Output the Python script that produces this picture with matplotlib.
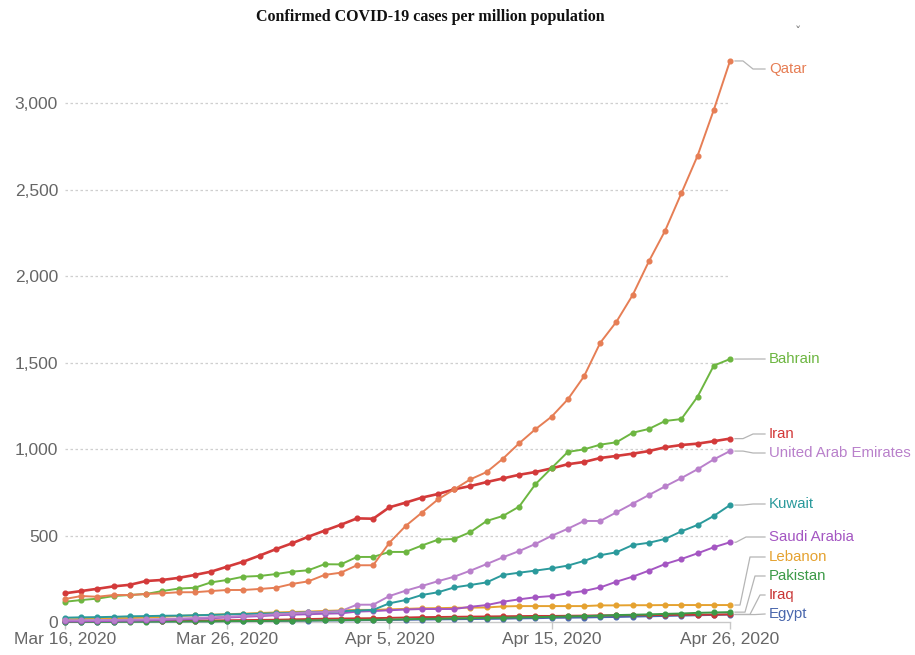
import matplotlib
matplotlib.use("Agg")
import matplotlib.pyplot as plt
import numpy as np

# ---------------- data ----------------
dates = ["Mar 16", "Mar 17", "Mar 18", "Mar 19", "Mar 20", "Mar 21", "Mar 22", "Mar 23",
         "Mar 24", "Mar 25", "Mar 26", "Mar 27", "Mar 28", "Mar 29", "Mar 30", "Mar 31",
         "Apr 1", "Apr 2", "Apr 3", "Apr 4", "Apr 5", "Apr 6", "Apr 7", "Apr 8", "Apr 9",
         "Apr 10", "Apr 11", "Apr 12", "Apr 13", "Apr 14", "Apr 15", "Apr 16", "Apr 17",
         "Apr 18", "Apr 19", "Apr 20", "Apr 21", "Apr 22", "Apr 23", "Apr 24", "Apr 25", "Apr 26"]

tick_dates = ["Mar 16", "Mar 26", "Apr 5", "Apr 15", "Apr 26"]
tick_labels = ["Mar 16, 2020", "Mar 26, 2020", "Apr 5, 2020", "Apr 15, 2020", "Apr 26, 2020"]
y_ticks = [0, 500, 1000, 1500, 2000, 2500, 3000]

qatar = [133, 150, 146, 156, 156, 162, 166, 172, 172, 179, 185, 185, 191, 198, 220, 235,
         272, 285, 328, 328, 458, 555, 632, 709, 767, 825, 867, 944, 1033, 1114, 1187,
         1287, 1420, 1614, 1736, 1890, 2085, 2262, 2478, 2695, 2960, 3243]
bahrain = [117, 127, 135, 150, 156, 162, 179, 193, 198, 229, 243, 262, 266, 277, 291, 299,
           334, 333, 376, 376, 405, 405, 442, 476, 480, 520, 584, 613, 667, 796, 890,
           983, 998, 1025, 1039, 1094, 1116, 1162, 1173, 1302, 1482, 1520]
iran = [166, 179, 192, 206, 215, 237, 243, 255, 272, 291, 320, 349, 384, 421, 455, 493,
        528, 562, 599, 597, 663, 690, 719, 740, 767, 786, 809, 830, 851, 867, 888,
        912, 925, 948, 960, 973, 988, 1010, 1023, 1031, 1045, 1060]
uae = [10, 10, 11, 12, 13, 15, 17, 20, 23, 27, 31, 35, 40, 45, 50, 55, 58, 63, 100, 100,
       150, 181, 208, 236, 262, 297, 335, 374, 410, 451, 498, 539, 584, 584, 634, 684,
       734, 784, 832, 883, 940, 988]
kuwait = [25, 27, 28, 30, 33, 34, 36, 37, 39, 41, 44, 46, 48, 50, 53, 56, 58, 62, 66, 70,
          108, 127, 156, 172, 200, 214, 229, 272, 285, 297, 310, 326, 353, 386, 403, 445,
          458, 480, 524, 561, 613, 676]
saudi = [3, 4, 5, 6, 8, 9, 11, 15, 18, 22, 26, 30, 34, 39, 42, 45, 48, 50, 60, 63, 68,
         72, 75, 75, 75, 88, 98, 117, 131, 143, 150, 166, 179, 200, 233, 262, 297, 335,
         364, 397, 432, 461]
lebanon = [15, 17, 20, 22, 23, 25, 30, 35, 38, 42, 45, 48, 52, 55, 58, 60, 64, 67, 70, 70,
           73, 76, 79, 80, 82, 83, 84, 90, 92, 92, 92, 92, 92, 96, 96, 97, 97, 98, 98, 98,
           98, 98]
pakistan = [1, 1, 1, 2, 2, 2, 3, 3, 4, 4, 5, 6, 6, 7, 8, 9, 10, 11, 12, 13, 14, 16, 18, 19,
            21, 22, 24, 25, 27, 28, 30, 32, 34, 37, 40, 42, 44, 47, 49, 53, 55, 57]
iraq = [3, 4, 5, 5, 5, 6, 6, 7, 8, 9, 10, 11, 12, 13, 15, 17, 19, 20, 21, 22, 24, 26, 28,
        29, 30, 31, 32, 33, 34, 35, 35, 36, 37, 38, 39, 40, 40, 41, 42, 42, 43, 44]
egypt = [1, 2, 2, 2, 3, 3, 3, 4, 4, 4, 5, 5, 6, 6, 7, 8, 9, 9, 10, 11, 12, 13, 14, 15, 16,
         17, 18, 19, 21, 22, 24, 25, 26, 28, 29, 31, 33, 35, 37, 39, 41, 43]

# -------------- styles ----------------
series = [
    ("Egypt", egypt, "#4a67ad"),
    ("Iraq", iraq, "#c93535"),
    ("Pakistan", pakistan, "#3c9a48"),
    ("Lebanon", lebanon, "#e5a230"),
    ("Saudi Arabia", saudi, "#a456c2"),
    ("Kuwait", kuwait, "#2b9a9c"),
    ("United Arab Emirates", uae, "#b980cb"),
    ("Iran", iran, "#d33a3a"),
    ("Bahrain", bahrain, "#6db641"),
    ("Qatar", qatar, "#e67e55"),
]
# label vertical positions (pixel y in figure, from top), elbow x (pixels)
label_py = {"Qatar": 69, "Bahrain": 359, "Iran": 434, "United Arab Emirates": 453,
            "Kuwait": 504, "Saudi Arabia": 537, "Lebanon": 557, "Pakistan": 576,
            "Iraq": 595, "Egypt": 614}
elbow_px = {"Qatar": 748, "Bahrain": 748, "Iran": 748, "United Arab Emirates": 748,
            "Kuwait": 748, "Saudi Arabia": 741, "Lebanon": 745, "Pakistan": 750,
            "Iraq": 755, "Egypt": 760}

plt.rcParams['font.family'] = ['Liberation Sans', 'DejaVu Sans']

W, H = 915, 655
fig = plt.figure(figsize=(W / 100, H / 100), dpi=100)
x0, x1 = 65, 730
y0, ytop = 622, 35
ax = fig.add_axes([x0 / W, (H - y0) / H, (x1 - x0) / W, (y0 - ytop) / H])

x = np.arange(len(dates))
ppu = 0.173  # pixels per unit
ymax = (y0 - ytop) / ppu
ax.set_xlim(0, len(dates) - 1)
ax.set_ylim(0, ymax)

for name, vals, col in series:
    lw = 1.9 if name == "Iran" else 1.4
    ax.plot(x, vals, color=col, lw=lw, marker='o', ms=3.4, mec=col, mfc=col,
            clip_on=False, zorder=3)

# grid
for yt in y_ticks[1:]:
    ax.axhline(yt, color="#cfcfcf", lw=0.9, ls=(0, (2, 2)), zorder=1)

for sp in ["top", "right", "left"]:
    ax.spines[sp].set_visible(False)
ax.spines["bottom"].set_color("#c8c8c8")
ax.spines["bottom"].set_linewidth(1.0)

ax.set_yticks(y_ticks)
ax.set_yticklabels([f"{v:,}" for v in y_ticks])
ax.tick_params(axis='y', length=0, pad=5, labelsize=12.5, labelcolor="#666666")
ax.set_xticks([dates.index(d) for d in tick_dates])
ax.set_xticklabels(tick_labels)
ax.tick_params(axis='x', length=5, width=1, color="#c8c8c8", pad=2,
               labelsize=12.5, labelcolor="#666666")

# labels with elbow connectors
dx = (len(dates) - 1) / (x1 - x0)
last = len(dates) - 1
for name, vals, col in series:
    py = vals[-1]
    ly = (y0 - label_py[name]) / ppu
    xs = [last + 5 * dx, last + (elbow_px[name] - 5 - x1) * dx,
          last + (elbow_px[name] + 5 - x1) * dx, last + (765 - x1) * dx]
    ys = [py, py, ly, ly]
    ax.plot(xs, ys, color="#b5b5b5", lw=0.9, clip_on=False, zorder=2)
    ax.text(last + (769 - x1) * dx, ly, name, color=col, fontsize=10.8,
            va='center', ha='left', clip_on=False)

fig.text(430 / W, 1 - 17 / H, "Confirmed COVID-19 cases per million population",
         ha='center', va='center', fontsize=11.5, fontweight='bold',
         family=['Liberation Serif', 'DejaVu Serif'], color="#111111")
fig.text(798 / W, 1 - 32 / H, "\u02c7", ha='center', va='center', fontsize=9,
         color="#777777", family=['DejaVu Sans'])

fig.savefig("out.png", dpi=100)
